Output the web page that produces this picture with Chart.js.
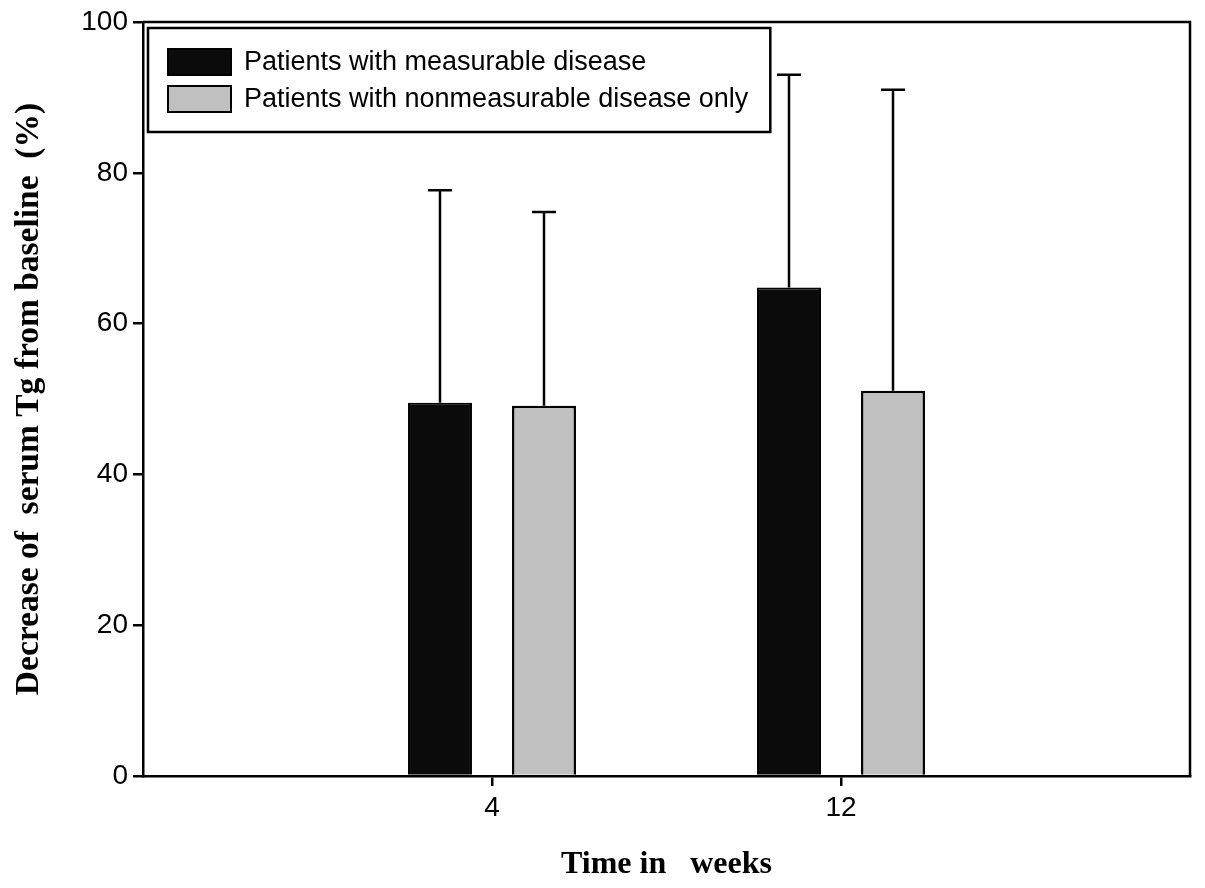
<!DOCTYPE html>
<html>
<head>
<meta charset="utf-8">
<script src="https://cdn.jsdelivr.net/npm/chart.js@4"></script>
<style>
  html, body { margin: 0; padding: 0; background: #fff; }
  #wrap { width: 1205px; height: 888px; position: relative; }
</style>
</head>
<body>
<div id="wrap"><canvas id="c"></canvas></div>
<script>
// ---- data ----
const categories = ['4', '12'];
const seriesLabels = ['Patients with measurable disease', 'Patients with nonmeasurable disease only'];
const measurable = [49.5, 64.8];
const measurableErr = [28.2, 28.2];
const nonmeasurable = [49.1, 51.1];
const nonmeasurableErr = [25.7, 39.9];
const yTicks = [0, 20, 40, 60, 80, 100];
const xTitle = 'Time in   weeks';
const yTitle = 'Decrease of  serum Tg from baseline  (%)';

// axis runs from an empty slot to an empty slot, categories sit at 1/3 and 2/3
const pad = arr => [null, ...arr, null];
const labels = ['', ...categories, ''];

const errorBars = {
  id: 'errorBars',
  afterDatasetsDraw(chart) {
    const ctx = chart.ctx;
    const yScale = chart.scales.y;
    ctx.save();
    ctx.strokeStyle = '#000';
    ctx.lineWidth = 2.5;
    chart.data.datasets.forEach((ds, di) => {
      const meta = chart.getDatasetMeta(di);
      meta.data.forEach((el, i) => {
        const v = ds.data[i];
        const e = ds.errors[i];
        if (v == null || e == null) return;
        const yTop = yScale.getPixelForValue(v + e);
        ctx.beginPath();
        ctx.moveTo(el.x, el.y);
        ctx.lineTo(el.x, yTop);
        ctx.moveTo(el.x - 12, yTop);
        ctx.lineTo(el.x + 12, yTop);
        ctx.stroke();
      });
    });
    ctx.restore();
  }
};

const frame = {
  id: 'frame',
  afterDraw(chart) {
    const { left, right, top, bottom } = chart.chartArea;
    const ctx = chart.ctx;
    ctx.save();
    ctx.strokeStyle = '#000';
    ctx.lineWidth = 2.5;
    ctx.beginPath();
    ctx.moveTo(left, top);
    ctx.lineTo(right, top);
    ctx.lineTo(right, bottom);
    ctx.stroke();
    ctx.restore();
  }
};

const boxLegend = {
  id: 'boxLegend',
  afterDraw(chart) {
    const ctx = chart.ctx;
    const { left, top } = chart.chartArea;
    const bx = left + 5, by = top + 6;
    const font = '27px "Liberation Sans", Arial, sans-serif';
    ctx.save();
    ctx.font = font;
    const texts = chart.data.datasets.map(d => d.label);
    const maxW = Math.max(...texts.map(t => ctx.measureText(t).width));
    const sx = bx + 20, sw = 63, tx = bx + 96;
    const bw = tx - bx + maxW + 22, bh = 104;
    ctx.fillStyle = '#fff';
    ctx.fillRect(bx, by, bw, bh);
    ctx.strokeStyle = '#000';
    ctx.lineWidth = 2.5;
    ctx.strokeRect(bx, by, bw, bh);
    const rows = [by + 34, by + 71];
    chart.data.datasets.forEach((d, i) => {
      const cy = rows[i];
      ctx.fillStyle = d.backgroundColor;
      ctx.fillRect(sx, cy - 13, sw, 26);
      ctx.lineWidth = 2;
      ctx.strokeStyle = '#000';
      ctx.strokeRect(sx, cy - 13, sw, 26);
      ctx.fillStyle = '#000';
      ctx.textBaseline = 'middle';
      ctx.textAlign = 'left';
      ctx.fillText(d.label, tx, cy + 1);
    });
    ctx.restore();
  }
};

new Chart(document.getElementById('c'), {
  type: 'bar',
  data: {
    labels: labels,
    datasets: [
      {
        label: seriesLabels[0],
        data: pad(measurable),
        errors: pad(measurableErr),
        backgroundColor: '#0b0b0b',
        borderColor: '#000',
        borderWidth: 2,
        categoryPercentage: 0.596,
        barPercentage: 0.615
      },
      {
        label: seriesLabels[1],
        data: pad(nonmeasurable),
        errors: pad(nonmeasurableErr),
        backgroundColor: '#c0c0c0',
        borderColor: '#000',
        borderWidth: 2.5,
        categoryPercentage: 0.596,
        barPercentage: 0.615
      }
    ]
  },
  options: {
    responsive: true,
    maintainAspectRatio: false,
    animation: false,
    layout: { padding: { top: 22, right: 15, left: 0, bottom: 0 } },
    plugins: {
      legend: { display: false },
      tooltip: { enabled: false }
    },
    scales: {
      x: {
        offset: false,
        grid: {
          display: true,
          offset: false,
          drawOnChartArea: false,
          drawTicks: true,
          tickLength: 10,
          lineWidth: 2.5,
          color: c => (c.tick && c.tick.label) ? '#000' : 'rgba(0,0,0,0)'
        },
        border: { display: true, color: '#000', width: 2.5 },
        ticks: {
          color: '#000',
          padding: 5,
          maxRotation: 0,
          autoSkip: false,
          font: { family: '"Liberation Sans", Arial, sans-serif', size: 28 }
        },
        title: {
          display: true,
          text: xTitle,
          color: '#000',
          padding: { top: 0, bottom: 4 },
          font: { family: '"Liberation Serif", "Times New Roman", serif', size: 32, weight: 'bold' }
        },
        afterFit: s => { s.height = 112; }
      },
      y: {
        min: 0,
        max: 100,
        afterBuildTicks: s => { s.ticks = yTicks.map(v => ({ value: v })); },
        grid: {
          display: true,
          drawOnChartArea: false,
          drawTicks: true,
          tickLength: 10,
          lineWidth: 2.5,
          color: '#000'
        },
        border: { display: true, color: '#000', width: 2.5 },
        ticks: {
          color: '#000',
          padding: 5,
          font: { family: '"Liberation Sans", Arial, sans-serif', size: 28 }
        },
        title: {
          display: true,
          text: yTitle,
          color: '#000',
          padding: { top: 9, bottom: 0 },
          font: { family: '"Liberation Serif", "Times New Roman", serif', size: 33.5, weight: 'bold' }
        },
        afterFit: s => { s.width = 143; }
      }
    }
  },
  plugins: [errorBars, frame, boxLegend]
});
</script>
</body>
</html>
